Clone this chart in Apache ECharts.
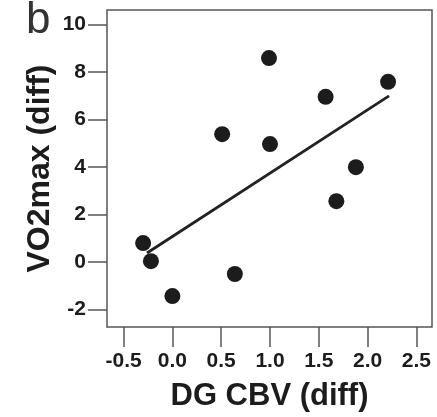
<!DOCTYPE html>
<html>
<head>
<meta charset="utf-8">
<script src="https://cdn.jsdelivr.net/npm/echarts@6/dist/echarts.min.js"></script>
<style>
  html, body { margin: 0; padding: 0; background: #fff; }
  #chart { width: 437px; height: 417px; }
</style>
</head>
<body>
<div id="chart"></div>
<script>
// Paired differences: DG cerebral blood volume vs VO2max
const cbvDiff = [0.99, 1.57, 2.21, 0.51, 1.00, 1.88, 1.68, -0.30, -0.22, 0.00, 0.64];
const vo2Diff = [8.58, 6.95, 7.58, 5.38, 4.96, 3.99, 2.56, 0.80, 0.04, -1.43, -0.50];

// Least-squares fit line, drawn between its two end points
const fitX = [-0.26, 2.22];
const fitY = [0.38, 6.99];

// Axis tick positions
const xTicks = [-0.5, 0.0, 0.5, 1.0, 1.5, 2.0, 2.5];
const yTicks = [-2, 0, 2, 4, 6, 8, 10];

const FONT = '"Liberation Sans", Arial, sans-serif';
const INK = '#1c1c1c';
const FRAME = '#555555';

const chart = echarts.init(document.getElementById('chart'), null, { renderer: 'canvas' });

chart.setOption({
  animation: false,
  backgroundColor: '#ffffff',
  grid: {
    left: 107, top: 10, width: 325, height: 317,
    show: true, borderColor: FRAME, borderWidth: 1.5, backgroundColor: 'transparent'
  },
  xAxis: {
    type: 'value',
    min: -0.67, max: 2.66,
    splitLine: { show: false },
    axisLine: { show: false, onZero: false },
    axisTick: { show: true, length: 20, customValues: xTicks, lineStyle: { color: FRAME, width: 1.5 } },
    axisLabel: {
      customValues: xTicks, margin: 24,
      formatter: v => v.toFixed(1),
      fontFamily: FONT, fontWeight: 'bold', fontSize: 21, color: INK
    },
    name: 'DG CBV (diff)',
    nameLocation: 'middle', nameGap: 54, nameMoveOverlap: false,
    nameTextStyle: { fontFamily: FONT, fontWeight: 'bold', fontSize: 31, color: INK }
  },
  yAxis: {
    type: 'value',
    min: -2.73, max: 10.6,
    splitLine: { show: false },
    axisLine: { show: false, onZero: false },
    axisTick: { show: true, length: 19, customValues: yTicks, lineStyle: { color: FRAME, width: 1.5 } },
    axisLabel: {
      customValues: yTicks, margin: 21,
      formatter: v => String(v),
      fontFamily: FONT, fontWeight: 'bold', fontSize: 21, color: INK
    },
    name: 'VO2max (diff)',
    nameLocation: 'middle', nameGap: 51, nameMoveOverlap: false,
    nameTextStyle: { fontFamily: FONT, fontWeight: 'bold', fontSize: 32, color: INK }
  },
  graphic: [{
    type: 'text', left: 26, top: -1,
    style: { text: 'b', font: '44px ' + FONT, fill: '#333333' }
  }],
  series: [
    {
      type: 'line',
      data: fitX.map((x, i) => [x, fitY[i]]),
      showSymbol: false,
      lineStyle: { color: '#222222', width: 2.8 },
      z: 2
    },
    {
      type: 'scatter',
      data: cbvDiff.map((x, i) => [x, vo2Diff[i]]),
      symbol: 'circle',
      symbolSize: 16,
      itemStyle: { color: INK, opacity: 1 },
      z: 3
    }
  ]
});
</script>
</body>
</html>
